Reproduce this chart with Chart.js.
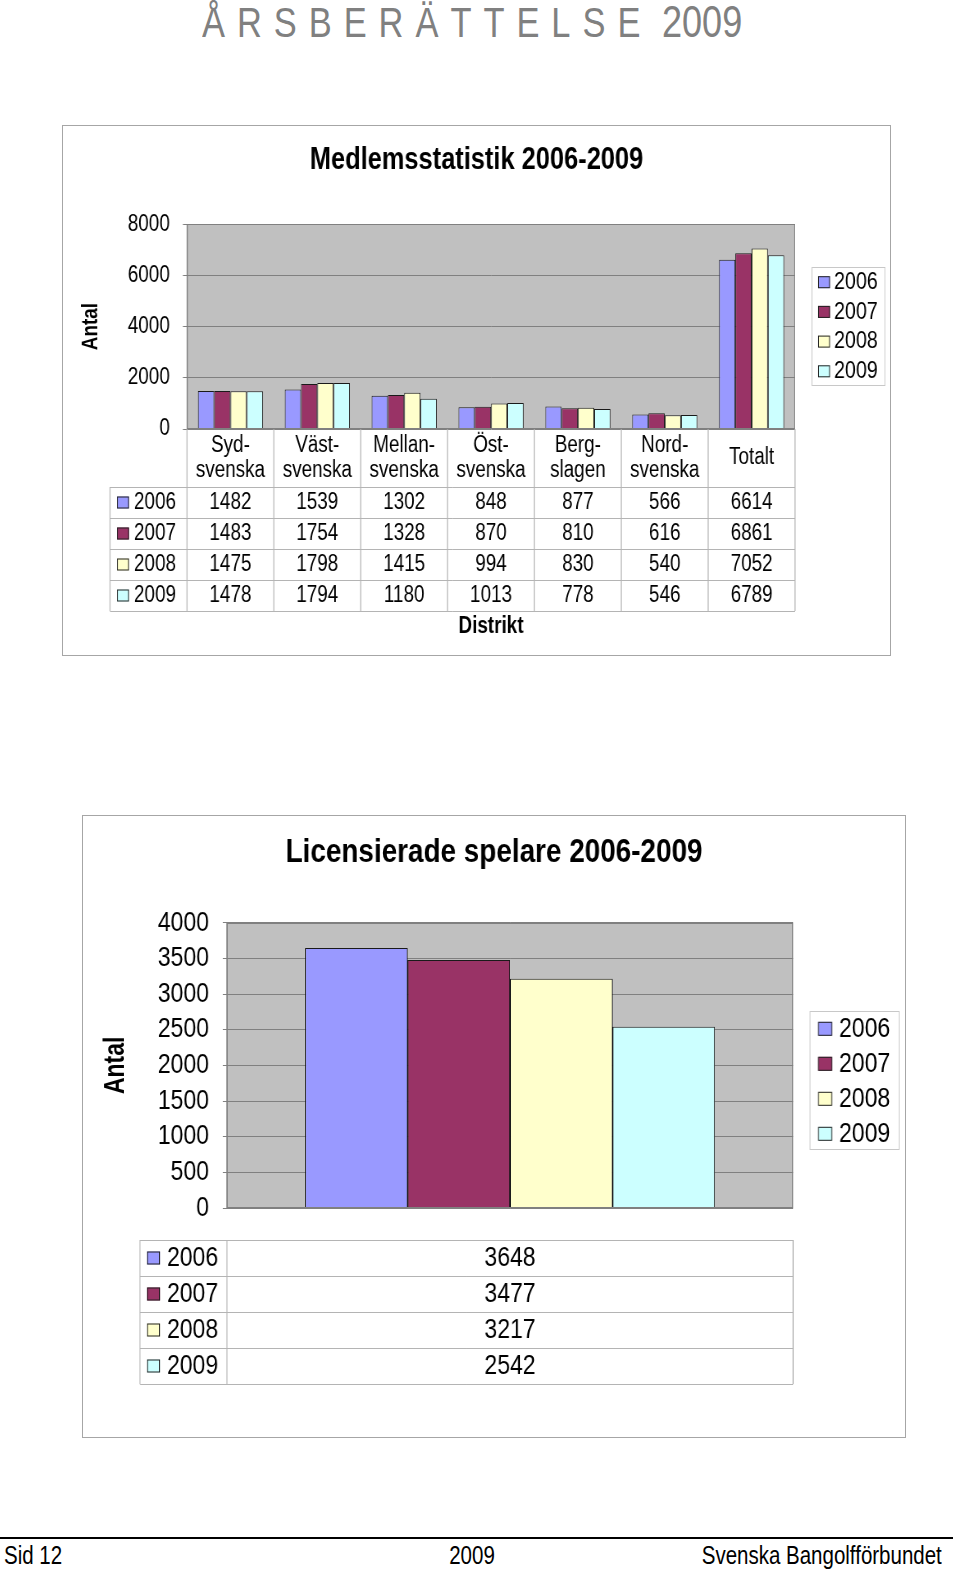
<!DOCTYPE html>
<html>
<head>
<meta charset="utf-8">
<script src="https://cdn.jsdelivr.net/npm/chart.js@4.4.1/dist/chart.umd.min.js"></script>
<style>
  body { margin: 0; background: #fff; width: 960px; height: 1573px; position: relative; overflow: hidden;
         font-family: 'Liberation Sans', Arial, sans-serif; }
  /* the original uses a narrow face; squeeze a normal one to the same width */
  .narrow { display: inline-block; transform: scaleX(0.82); white-space: nowrap; }
  .head { position: absolute; left: 202px; top: 0; font-size: 42px; line-height: 44px; color: #808080; transform-origin: 0 0; }
  .head .sp { letter-spacing: 14.6px; }
  .head .yr { font-size: 44px; }
  .box { position: absolute; border: 1px solid #a6a6a6; box-sizing: border-box; }
  .box canvas { position: absolute; left: -1px; top: -1px; transform: scaleX(0.82); transform-origin: 0 0; }
  .rule { position: absolute; left: 0; top: 1537px; width: 953px; height: 2px; background: #000; }
  .foot { position: absolute; top: 1540px; font-size: 25px; line-height: 30px; color: #000; }
</style>
</head>
<body>
<div class="head narrow"><span class="sp">ÅRSBERÄTTELSE</span> <span class="yr">2009</span></div>

<div class="box" style="left:62px; top:125px; width:829px; height:531px;">
  <canvas id="membersChart" width="1011" height="531"></canvas>
</div>

<div class="box" style="left:82px; top:815px; width:824px; height:623px;">
  <canvas id="licenseChart" width="1005" height="623"></canvas>
</div>

<div class="rule"></div>
<div class="foot narrow" style="left:4px; transform-origin:0 0;">Sid 12</div>
<div class="foot narrow" style="left:472px; transform:translateX(-50%) scaleX(0.82); transform-origin:50% 0;">2009</div>
<div class="foot narrow" style="right:18px; transform-origin:100% 0;">Svenska Bangolfförbundet</div>

<script>
// --- data ---
const years = ['2006', '2007', '2008', '2009'];
const districts = [['Syd-', 'svenska'], ['Väst-', 'svenska'], ['Mellan-', 'svenska'], ['Öst-', 'svenska'],
                   ['Berg-', 'slagen'], ['Nord-', 'svenska'], ['Totalt']];
const members2006 = [1482, 1539, 1302, 848, 877, 566, 6614];
const members2007 = [1483, 1754, 1328, 870, 810, 616, 6861];
const members2008 = [1475, 1798, 1415, 994, 830, 540, 7052];
const members2009 = [1478, 1794, 1180, 1013, 778, 546, 6789];
const memberTicks = [0, 2000, 4000, 6000, 8000];

const licensed = [3648, 3477, 3217, 2542];
const licenseTicks = [0, 500, 1000, 1500, 2000, 2500, 3000, 3500, 4000];

const yearColors = ['#9999ff', '#993366', '#ffffcc', '#ccffff'];
const FONT = "'Liberation Sans', Arial, sans-serif";
const SX = 0.82; // canvas is squeezed horizontally by this factor

Chart.defaults.font.family = FONT;
Chart.defaults.color = '#000';

// grey plot area, data table under the axis, boxed legend, rotated y title
const sheetPlugin = {
  id: 'sheet',
  beforeDraw(chart) {
    const { ctx, chartArea: a } = chart;
    ctx.save();
    ctx.fillStyle = '#c0c0c0';
    ctx.fillRect(a.left, a.top, a.width, a.height);
    ctx.restore();
  },
  afterDraw(chart, args, o) {
    const { ctx, chartArea: a } = chart;
    const xs = chart.scales.x;
    const labels = chart.data.labels;
    const sets = chart.data.datasets;
    const n = labels.length;

    ctx.save();
    ctx.lineWidth = 1;
    ctx.strokeStyle = '#808080';
    ctx.strokeRect(a.left + 0.5, Math.round(a.top) + 0.5, a.width - 1, Math.round(a.height) - 1);

    // table grid
    const top = a.bottom + o.gap;
    const bodyTop = top + o.headerH;
    const bottom = bodyTop + sets.length * o.rowH;
    const colL = a.left - o.labelW / SX;
    ctx.strokeStyle = '#b4b4b4';
    ctx.lineWidth = 1 / SX;
    ctx.beginPath();
    for (let i = 0; i <= n; i++) {
      const px = a.left + a.width * i / n;
      ctx.moveTo(px, top);
      ctx.lineTo(px, bottom);
    }
    ctx.moveTo(colL, bodyTop);
    ctx.lineTo(colL, bottom);
    ctx.stroke();
    ctx.lineWidth = 1;
    ctx.beginPath();
    for (let k = 0; k <= sets.length; k++) {
      const py = Math.round(bodyTop + k * o.rowH) + 0.5;
      ctx.moveTo(colL, py);
      ctx.lineTo(a.right, py);
    }
    ctx.stroke();

    ctx.fillStyle = '#000';
    ctx.textBaseline = 'middle';
    ctx.font = o.fontSize + 'px ' + FONT;

    // category header
    if (o.headerH > 0) {
      ctx.textAlign = 'center';
      labels.forEach((l, i) => {
        const lines = Array.isArray(l) ? l : [l];
        const cx = xs.getPixelForValue(i);
        const y0 = top + o.headerH / 2 - (lines.length - 1) * o.lineH / 2;
        lines.forEach((t, j) => ctx.fillText(t, cx, y0 + j * o.lineH));
      });
    }

    const swatch = (x, cy, size, color) => {
      ctx.fillStyle = color;
      ctx.fillRect(x, cy - size / 2, size / SX, size);
      ctx.strokeStyle = '#222';
      ctx.lineWidth = 1;
      ctx.strokeRect(x + 0.5, cy - size / 2 + 0.5, size / SX - 1, size - 1);
    };

    // rows
    sets.forEach((ds, r) => {
      const cy = bodyTop + r * o.rowH + o.rowH / 2;
      swatch(colL + o.markX / SX, cy, o.mark, ds.backgroundColor);
      ctx.fillStyle = '#000';
      ctx.textAlign = 'left';
      ctx.fillText(ds.label, colL + o.textX / SX, cy);
      ctx.textAlign = 'center';
      ds.data.forEach((v, j) => ctx.fillText(String(v), xs.getPixelForValue(j), cy));
    });

    // x axis title under the table
    if (o.axisTitle) {
      ctx.font = 'bold ' + o.fontSize + 'px ' + FONT;
      ctx.textAlign = 'center';
      ctx.fillText(o.axisTitle, (a.left + a.right) / 2, bottom + o.axisTitleDy);
    }

    // y axis title, rotated, kept at narrow proportions
    ctx.save();
    ctx.translate(o.yTitleX / SX, (a.top + a.bottom) / 2);
    ctx.rotate(-Math.PI / 2);
    ctx.scale(SX, 1 / SX);
    ctx.font = 'bold ' + o.yTitleSize + 'px ' + FONT;
    ctx.textAlign = 'center';
    ctx.fillStyle = '#000';
    ctx.fillText(o.yTitle, 0, 0);
    ctx.restore();

    // legend
    const L = o.legend;
    const lx = a.right + L.dx / SX, ly = a.top + L.dy;
    ctx.strokeStyle = '#c8c8c8';
    ctx.lineWidth = 1;
    ctx.strokeRect(lx, Math.round(ly) + 0.5, L.w / SX, L.h);
    ctx.font = L.fontSize + 'px ' + FONT;
    ctx.textAlign = 'left';
    sets.forEach((ds, i) => {
      const cy = ly + L.first + i * L.step;
      swatch(lx + L.markX / SX, cy, L.mark, ds.backgroundColor);
      ctx.fillStyle = '#000';
      ctx.fillText(ds.label, lx + L.textX / SX, cy);
    });
    ctx.restore();
  }
};

function yAxis(ticks, width, tickFont, tickPad) {
  return {
    min: ticks[0],
    max: ticks[ticks.length - 1],
    afterBuildTicks: (scale) => { scale.ticks = ticks.map(v => ({ value: v })); },
    afterFit: (scale) => { scale.width = width / SX; },
    grid: { color: '#808080', lineWidth: 1, drawTicks: true, tickLength: 5 },
    border: { display: true, color: '#808080' },
    ticks: { font: { size: tickFont }, color: '#000', padding: tickPad, autoSkip: false, callback: (v) => String(v) }
  };
}

// empty axis on the right that keeps room for the legend box
function legendRoom(width) {
  return {
    type: 'linear',
    position: 'right',
    afterFit: (scale) => { scale.width = width / SX; },
    grid: { display: false },
    border: { display: false },
    ticks: { display: false }
  };
}

// --- chart 1: members per district ---
const memberSeries = [members2006, members2007, members2008, members2009];
new Chart(document.getElementById('membersChart'), {
  type: 'bar',
  data: {
    labels: districts,
    datasets: years.map((y, i) => ({
      label: y,
      data: memberSeries[i],
      backgroundColor: yearColors[i],
      borderColor: '#1a1a1a',
      borderWidth: 1,
      categoryPercentage: 0.75,
      barPercentage: 1.0
    }))
  },
  options: {
    responsive: false,
    animation: false,
    layout: { padding: { left: 0, right: 0, top: 0, bottom: 227 } },
    plugins: {
      legend: { display: false },
      tooltip: { enabled: false },
      title: {
        display: true,
        text: 'Medlemsstatistik 2006-2009',
        color: '#000',
        font: { size: 31, weight: 'bold' },
        padding: { top: 17, bottom: 45 }
      },
      sheet: {
        gap: 0, headerH: 58, rowH: 31, lineH: 25, labelW: 77, fontSize: 23,
        mark: 12, markX: 7, textX: 24,
        axisTitle: 'Distrikt', axisTitleDy: 16,
        yTitle: 'Antal', yTitleX: 29, yTitleSize: 23,
        legend: { dx: 17, dy: 43, w: 73, h: 118, first: 15, step: 29.7, mark: 12, markX: 6, textX: 22, fontSize: 24 }
      }
    },
    scales: {
      x: { display: false },
      y: yAxis(memberTicks, 125, 23, 16),
      room: legendRoom(96)
    }
  },
  plugins: [sheetPlugin]
});

// --- chart 2: licensed players ---
new Chart(document.getElementById('licenseChart'), {
  type: 'bar',
  data: {
    labels: [''],
    datasets: years.map((y, i) => ({
      label: y,
      data: [licensed[i]],
      backgroundColor: yearColors[i],
      borderColor: '#1a1a1a',
      borderWidth: 1,
      categoryPercentage: 0.724,
      barPercentage: 1.0
    }))
  },
  options: {
    responsive: false,
    animation: false,
    layout: { padding: { left: 0, right: 0, top: 0, bottom: 230 } },
    plugins: {
      legend: { display: false },
      tooltip: { enabled: false },
      title: {
        display: true,
        text: 'Licensierade spelare 2006-2009',
        color: '#000',
        font: { size: 34, weight: 'bold' },
        padding: { top: 17, bottom: 50 }
      },
      sheet: {
        gap: 32, headerH: 0, rowH: 36, lineH: 30, labelW: 87, fontSize: 28,
        mark: 13, markX: 7, textX: 27,
        axisTitle: null,
        yTitle: 'Antal', yTitleX: 34, yTitleSize: 28,
        legend: { dx: 17, dy: 88, w: 89, h: 138, first: 18, step: 35, mark: 14, markX: 8, textX: 29, fontSize: 28 }
      }
    },
    scales: {
      x: { display: false },
      y: yAxis(licenseTicks, 145, 28, 17),
      room: legendRoom(113)
    }
  },
  plugins: [sheetPlugin]
});
</script>
</body>
</html>
